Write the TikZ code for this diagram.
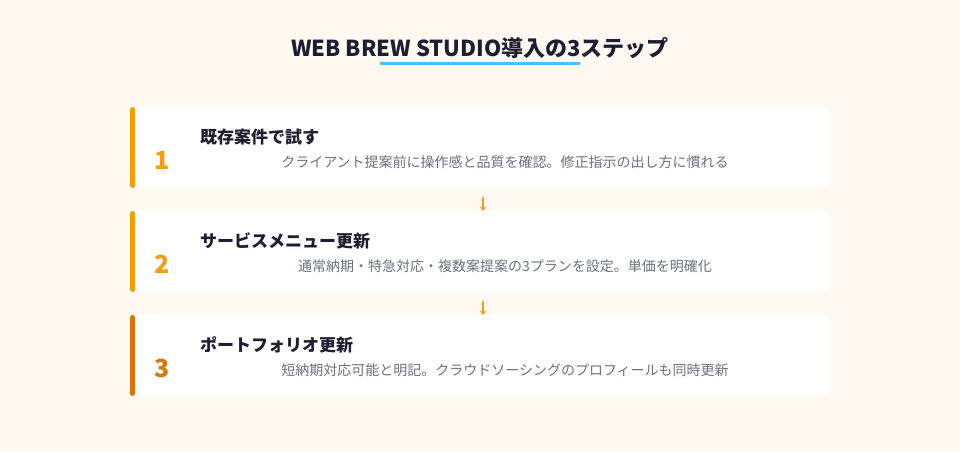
\documentclass[tikz,border=0pt]{standalone}
\usepackage{fontspec}
\setmainfont{Noto Sans CJK JP}
\usetikzlibrary{arrows.meta,calc}
\definecolor{bgc}{HTML}{FFF9F1}
\definecolor{ink}{HTML}{1E1E32}
\definecolor{graytxt}{HTML}{6B7280}
\definecolor{skyline}{HTML}{45C4EE}
\definecolor{orangeA}{HTML}{F59E0B}
\definecolor{orangeB}{HTML}{D97706}
\tikzset{
  card/.style={fill=white, draw=none, rounded corners=8pt, minimum width=700pt, minimum height=81pt, inner sep=0pt},
  bar/.style={fill=#1, draw=none, rounded corners=2.5pt},
  num/.style={text=#1, font=\bfseries\fontsize{25}{25}\selectfont, inner sep=0pt},
  steptitle/.style={text=ink, font=\bfseries\fontsize{17}{17}\selectfont, anchor=west, inner sep=0pt},
  desc/.style={text=graytxt, font=\fontsize{14}{14}\selectfont, inner sep=0pt},
  flow/.style={draw=orangeA, line width=1.6pt, -{Stealth[length=4pt,width=7pt]}},
}
\begin{document}
\begin{tikzpicture}[x=1pt,y=-1pt]
\useasboundingbox (0,0) rectangle (960,451);
\fill[bgc] (0,0) rectangle (960,451);
% title
\node[text=ink, font=\bfseries\fontsize{22}{22}\selectfont, inner sep=0pt] (title) at (480,48) {WEB BREW STUDIO導入の3ステップ};
\draw[skyline, line width=3pt] (380,63.5) -- (580,63.5);
% cards
\node[card] (c1) at (480,147.5) {};
\node[card] (c2) at (480,251.5) {};
\node[card] (c3) at (480,355.5) {};
\fill[bar=orangeA] (130,107) rectangle (135,188);
\fill[bar=orangeA] (130,211) rectangle (135,292);
\fill[bar=orangeB] (130,315) rectangle (135,396);
% numbers
\node[num=orangeA] (n1) at (162,160) {1};
\node[num=orangeA] (n2) at (162,264) {2};
\node[num=orangeB] (n3) at (162,368) {3};
% titles
\node[steptitle] (t1) at (200,137) {既存案件で試す};
\node[steptitle] (t2) at (200,241) {サービスメニュー更新};
\node[steptitle] (t3) at (200,345) {ポートフォリオ更新};
% descriptions
\node[desc] (d1) at (505,162) {クライアント提案前に操作感と品質を確認。修正指示の出し方に慣れる};
\node[desc] (d2) at (505,266) {通常納期・特急対応・複数案提案の3プランを設定。単価を明確化};
\node[desc] (d3) at (505,370) {短納期対応可能と明記。クラウドソーシングのプロフィールも同時更新};
% arrows
\draw[flow] ($(c1.south)+(3,9)$) -- ($(c2.north)+(3,0)$);
\draw[flow] ($(c2.south)+(3,9)$) -- ($(c3.north)+(3,0)$);
\end{tikzpicture}
\end{document}
